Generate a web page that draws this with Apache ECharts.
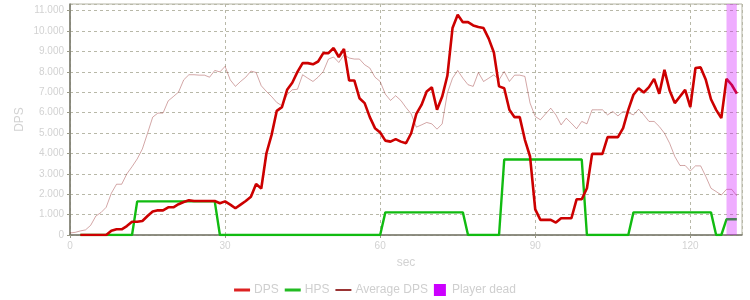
<!DOCTYPE html>
<html>
<head>
<meta charset="utf-8">
<script src="https://cdn.jsdelivr.net/npm/echarts@6/dist/echarts.min.js"></script>
<style>
html,body{margin:0;padding:0;background:#fff;}
#chart{width:750px;height:300px;}
</style>
</head>
<body>
<div id="chart"></div>
<script>
// seconds 0..129
const seconds = Array.from({length: 130}, (_, i) => i);

const dps = [null, null,
  0, 0, 0, 0, 0, 0, 210, 280, 280, 440, 650, 650, 690, 930, 1150, 1210, 1210, 1360,
  1360, 1510, 1620, 1700, 1670, 1670, 1670, 1670, 1670, 1560, 1650, 1490, 1310, 1490, 1670, 1880, 2500, 2280, 4010, 4910,
  6090, 6270, 7120, 7470, 8000, 8430, 8430, 8370, 8510, 8920, 8920, 9170, 8730, 9120, 7580, 7580, 6710, 6470, 5780, 5240,
  5030, 4630, 4580, 4700, 4580, 4500, 4990, 5940, 6380, 7040, 7240, 6140, 6790, 7810, 10150, 10800, 10440, 10440, 10280, 10200,
  10150, 9630, 8950, 7290, 7200, 6140, 5780, 5780, 4670, 3850, 1260, 740, 740, 740, 610, 820, 820, 820, 1750, 1750,
  2290, 3980, 3980, 3980, 4800, 4800, 4800, 5240, 6140, 6880, 7200, 6990, 7250, 7660, 6930, 8100, 7090, 6470, 6790, 7120,
  6270, 8190, 8220, 7610, 6660, 6140, 5730, 7660, 7370, 6930];

const hps = [null, null,
  0, 0, 0, 0, 0, 0, 0, 0, 0, 0, 0, 1650, 1650, 1650, 1650, 1650, 1650, 1650,
  1650, 1650, 1650, 1650, 1650, 1650, 1650, 1650, 1650, 0, 0, 0, 0, 0, 0, 0, 0, 0, 0, 0,
  0, 0, 0, 0, 0, 0, 0, 0, 0, 0, 0, 0, 0, 0, 0, 0, 0, 0, 0, 0,
  0, 1110, 1110, 1110, 1110, 1110, 1110, 1110, 1110, 1110, 1110, 1110, 1110, 1110, 1110, 1110, 1110, 0, 0, 0,
  0, 0, 0, 0, 3700, 3700, 3700, 3700, 3700, 3700, 3700, 3700, 3700, 3700, 3700, 3700, 3700, 3700, 3700, 3700,
  0, 0, 0, 0, 0, 0, 0, 0, 0, 1110, 1110, 1110, 1110, 1110, 1110, 1110, 1110, 1110, 1110, 1110,
  1110, 1110, 1110, 1110, 1110, 0, 0, 770, 770, 770];

const avgDps = [
  100, 130, 200, 250, 475, 930, 1100, 1360, 2050, 2490, 2490, 3000, 3350, 3730, 4220, 4990, 5780, 5980, 5980, 6580,
  6790, 7010, 7610, 7860, 7860, 7840, 7840, 7740, 8070, 8000, 8270, 7610, 7290, 7530, 7740, 8040, 7970, 7320, 7040, 6790,
  6500, 6340, 6880, 7120, 7150, 7860, 7690, 7530, 7740, 8020, 8630, 8730, 8460, 8840, 8680, 8630, 8630, 8350, 8190, 7740,
  7530, 6910, 6600, 6830, 6600, 6250, 5940, 5290, 5400, 5520, 5450, 5190, 5450, 6960, 7690, 8070, 7690, 7370, 7290, 7970,
  7530, 7690, 7860, 7610, 8020, 7530, 7840, 7840, 7780, 6470, 5810, 5650, 5940, 6220, 5890, 5400, 5730, 5480, 5210, 5570,
  5450, 6140, 6140, 6140, 5890, 6060, 5840, 6060, 6000, 5890, 6170, 5890, 5570, 5570, 5320, 4990, 4500, 3850, 3410, 3410,
  3140, 3390, 3390, 2870, 2290, 2130, 1960, 2240, 2240, 1920];

const playerDead = [[127, 129]];

const xTicks = [0, 30, 60, 90, 120];

const pair = arr => seconds.map((s, i) => [s, arr[i]]);
const fmt = v => String(v).replace(/\B(?=(\d{3})+(?!\d))/g, '.');

const labelColor = '#d2d2d2';
const chart = echarts.init(document.getElementById('chart'), null, {renderer: 'canvas'});
chart.setOption({
  animation: false,
  textStyle: {fontFamily: 'Liberation Sans, Arial, sans-serif'},
  grid: {left: 70, right: 8, top: 4, bottom: 65, show: true, borderColor: '#b4b4a4', borderWidth: 1, backgroundColor: 'transparent'},
  legend: {
    left: 'center', top: 279, itemWidth: 16, itemHeight: 12, itemGap: 6,
    textStyle: {color: '#cfcfcf', fontSize: 12, padding: [0, 0, 0, -1]},
    data: [
      {name: 'DPS', icon: 'path://M0,0H16V3H0Z', itemStyle: {color: '#dd2222'}},
      {name: 'HPS', icon: 'path://M0,0H16V3H0Z', itemStyle: {color: '#22bb22'}},
      {name: 'Average DPS', icon: 'path://M0,0H16V1.6H0Z', itemStyle: {color: '#800000', opacity: 1}},
      {name: 'Player dead', icon: 'path://M0,0H12V12H0Z', itemStyle: {color: '#cc00ff'}}
    ]
  },
  xAxis: {
    type: 'value', min: 0, max: 130, interval: 30,
    name: 'sec', nameLocation: 'middle', nameGap: 22, nameMoveOverlap: false,
    nameTextStyle: {color: labelColor, fontSize: 12},
    axisLine: {lineStyle: {color: '#77776a', width: 1.5}},
    axisTick: {show: true, length: 3, lineStyle: {color: '#999988'}},
    axisLabel: {color: labelColor, fontSize: 10, margin: 6, showMaxLabel: false,
      formatter: v => (xTicks.indexOf(v) >= 0 ? String(v) : '')},
    splitLine: {show: true, lineStyle: {color: '#b8b8a8', type: [3, 3], width: 1}}
  },
  yAxis: {
    type: 'value', min: 0, max: 11330, interval: 1000,
    name: 'DPS', nameLocation: 'middle', nameGap: 44, nameMoveOverlap: false,
    nameTextStyle: {color: labelColor, fontSize: 12},
    axisLine: {show: true, lineStyle: {color: '#77776a', width: 1.5}},
    axisTick: {show: true, length: 3, lineStyle: {color: '#999988'}},
    axisLabel: {color: labelColor, fontSize: 10, margin: 6, showMaxLabel: false, formatter: fmt},
    splitLine: {show: true, lineStyle: {color: '#b8b8a8', type: [3, 3], width: 1}}
  },
  series: [
    {
      name: 'DPS', type: 'line', data: pair(dps), showSymbol: false, symbol: 'none', z: 4,
      color: '#cc0000', lineStyle: {color: '#cc0000', width: 2.6}
    },
    {
      name: 'HPS', type: 'line', data: pair(hps), showSymbol: false, symbol: 'none', z: 3,
      color: '#11bb11', lineStyle: {color: '#11bb11', width: 2.4}
    },
    {
      name: 'Average DPS', type: 'line', data: pair(avgDps), showSymbol: false, symbol: 'none', z: 2,
      color: '#800000', lineStyle: {color: '#800000', width: 1, opacity: 0.35}
    },
    {
      name: 'Player dead', type: 'line', data: [], z: 10,
      color: '#cc00ff', itemStyle: {color: '#cc00ff'},
      markArea: {
        silent: true, z: 10,
        itemStyle: {color: 'rgba(204,0,255,0.32)'},
        data: playerDead.map(r => [{xAxis: r[0]}, {xAxis: r[1]}])
      }
    }
  ]
});
</script>
</body>
</html>
